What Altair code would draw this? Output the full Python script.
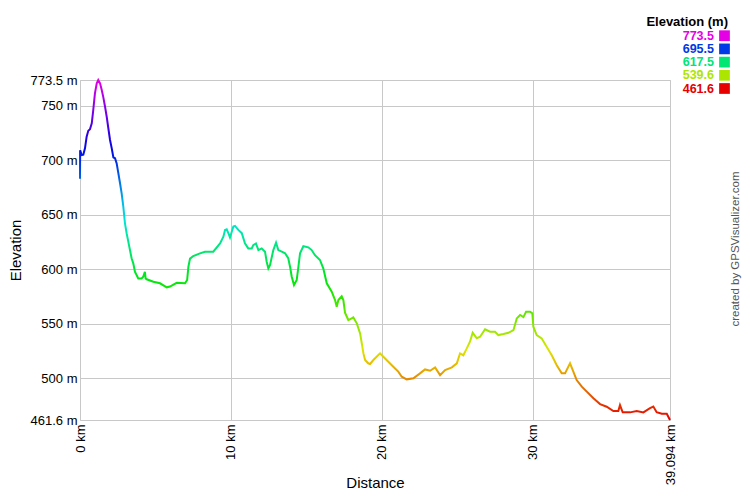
import colorsys
import altair as alt
import pandas as pd

dist_km = [0.0, 0.01, 0.11, 0.22, 0.33, 0.44, 0.55, 0.66, 0.78, 0.88, 0.99, 1.11, 1.21, 1.33, 1.44,
           1.54, 1.66, 1.77, 1.88, 1.99, 2.1, 2.21, 2.32, 2.43, 2.54, 2.65, 2.76, 2.87, 2.98, 3.09,
           3.2, 3.31, 3.42, 3.53, 3.64, 3.86, 4.08, 4.19, 4.3, 4.35, 4.42, 4.86, 5.3, 5.75, 5.96,
           6.41, 6.96, 7.1, 7.18, 7.29, 7.5, 7.95, 8.28, 8.83, 9.28, 9.5, 9.61, 9.72, 9.83, 9.94,
           10.05, 10.16, 10.27, 10.49, 10.72, 10.93, 11.15, 11.38, 11.48, 11.66, 11.82, 12.04, 12.26,
           12.37, 12.48, 12.59, 12.81, 12.99, 13.14, 13.37, 13.59, 13.8, 13.92, 14.03, 14.18, 14.36,
           14.47, 14.58, 14.8, 15.13, 15.35, 15.57, 15.9, 16.12, 16.35, 16.68, 16.9, 17.01, 17.12,
           17.34, 17.45, 17.56, 17.78, 18.0, 18.11, 18.34, 18.56, 18.67, 18.78, 18.89, 19.1, 19.22,
           19.44, 19.77, 19.88, 20.1, 20.43, 20.76, 21.09, 21.32, 21.65, 22.09, 22.53, 22.86, 23.2,
           23.53, 23.86, 24.19, 24.64, 24.97, 25.18, 25.4, 25.63, 25.84, 26.02, 26.29, 26.51, 26.84,
           27.17, 27.5, 27.72, 28.06, 28.39, 28.72, 28.94, 29.16, 29.38, 29.56, 29.82, 29.97, 30.04,
           30.26, 30.59, 30.92, 31.26, 31.59, 31.92, 32.14, 32.47, 32.65, 32.91, 33.25, 33.58, 34.02,
           34.46, 34.9, 35.34, 35.67, 35.78, 35.96, 36.45, 36.89, 37.33, 37.77, 37.99, 38.21, 38.55,
           38.88, 39.094]
elev_m = [683.0, 709.0, 704.7, 705.0, 710.8, 721.5, 727.0, 728.3, 733.8, 746.0, 761.3, 770.4, 773.5, 770.4, 764.3,
          758.0, 749.0, 739.8, 729.0, 718.5, 711.0, 702.6, 701.7, 697.0, 688.0, 679.0, 669.5, 657.3, 642.0, 632.9,
          625.2, 617.5, 610.0, 605.3, 597.6, 591.5, 591.5, 593.0, 597.6, 591.5, 590.7, 588.5, 587.0, 583.3, 584.0,
          587.5, 587.0, 590.0, 602.0, 609.6, 612.0, 614.5, 616.0, 616.0, 623.6, 629.7, 635.9, 636.5, 633.0, 629.0,
          634.0, 639.0, 639.6, 636.0, 633.0, 623.6, 619.0, 619.0, 622.0, 623.6, 617.5, 619.0, 616.0,
          606.8, 600.7, 603.7, 617.5, 624.3, 617.5, 616.0, 614.5, 610.0, 602.0, 593.0, 585.4, 590.0,
          602.0, 614.5, 621.0, 620.0, 617.5, 612.8, 608.4, 600.7, 587.0, 579.3, 571.6, 565.5, 571.6,
          575.0, 571.6, 560.0, 553.3, 554.8, 555.8, 550.3, 541.0, 532.0, 522.7, 516.6, 513.6, 513.0,
          516.6, 521.2, 522.7, 519.6, 515.0, 510.5, 506.0, 501.3, 498.9, 499.8, 504.4, 508.0, 506.8,
          509.9, 502.8, 507.4, 509.9, 513.6, 522.7, 521.0, 527.3, 533.4, 541.6, 536.5, 538.0, 544.8,
          542.6, 542.6, 539.5, 540.5, 541.6, 544.0, 554.8, 557.9, 556.0, 561.0, 561.0, 559.5, 547.2,
          539.5, 536.5, 528.8, 521.0, 511.9, 504.4, 504.4, 513.6, 507.4, 498.3, 492.2, 487.6, 481.5,
          476.2, 473.8, 469.8, 469.8, 475.3, 468.6, 468.6, 469.8, 468.6, 472.4, 473.9, 468.8, 467.3,
          467.3, 461.6]

y_ticks = [461.6, 500, 550, 600, 650, 700, 750, 773.5]
x_ticks = [0, 10, 20, 30, 39.094]
legend_labels = ["773.5", "695.5", "617.5", "539.6", "461.6"]

ELEV_MIN, ELEV_MAX = 461.6, 773.5
FONT = "Liberation Sans"
GRID = "#c8c8c8"


def hue_color(frac):
    r, g, b = colorsys.hsv_to_rgb(frac * 300 / 360, 1.0, 0.9)
    return "#%02x%02x%02x" % (round(r * 255), round(g * 255), round(b * 255))


df = pd.DataFrame({"dist": dist_km, "elev": elev_m})
one = pd.DataFrame({"k": [0]})

n_stops = 24
stops = [alt.GradientStop(color=hue_color(1 - i / n_stops), offset=i / n_stops) for i in range(n_stops + 1)]

line = alt.Chart(df).mark_line(
    strokeWidth=2,
    stroke=alt.Gradient(gradient="linear", stops=stops, x1=0, x2=0, y1=0, y2=1),
).encode(
    x=alt.X("dist:Q",
            scale=alt.Scale(domain=[0, 39.094], nice=False, zero=False),
            axis=alt.Axis(values=x_ticks, labelExpr="datum.value + ' km'", labelAngle=270,
                          labelAlign="right", labelBaseline="middle", labelPadding=4,
                          ticks=False, domain=False, grid=True, gridColor=GRID,
                          labelFont=FONT, labelFontSize=13, labelColor="#000",
                          title="Distance", titleFont=FONT, titleFontSize=15,
                          titleFontWeight="normal", titleColor="#000",
                          titleBaseline="alphabetic", titleY=67)),
    y=alt.Y("elev:Q",
            scale=alt.Scale(domain=[ELEV_MIN, ELEV_MAX], nice=False, zero=False),
            axis=alt.Axis(values=y_ticks, labelExpr="datum.value + ' m'", labelPadding=3,
                          ticks=False, domain=False, grid=True, gridColor=GRID,
                          labelFont=FONT, labelFontSize=13, labelColor="#000",
                          title="Elevation", titleFont=FONT, titleFontSize=15,
                          titleFontWeight="normal", titleColor="#000",
                          titleX=-60, titleY=170, titleAngle=270,
                          titleAlign="center", titleBaseline="alphabetic")),
)

layers = [line]

# legend title
layers.append(alt.Chart(one).mark_text(
    text="Elevation (m)", font=FONT, fontSize=13, fontWeight="bold",
    align="right", baseline="alphabetic", color="#000"
).encode(x=alt.value(648), y=alt.value(-54)))

row_y = [-44.3, -31.1, -17.9, -4.7, 8.5]
for i, lab in enumerate(legend_labels):
    frac = (float(lab) - ELEV_MIN) / (ELEV_MAX - ELEV_MIN)
    col = hue_color(frac)
    layers.append(alt.Chart(one).mark_text(
        text=lab, font=FONT, fontSize=12.5, fontWeight="bold",
        align="right", baseline="middle", color=col
    ).encode(x=alt.value(634), y=alt.value(row_y[i])))
    layers.append(alt.Chart(one).mark_square(
        size=115, color=col, opacity=1, filled=True
    ).encode(x=alt.value(644.5), y=alt.value(row_y[i])))

# credit text
layers.append(alt.Chart(one).mark_text(
    text="created by GPSVisualizer.com", font=FONT, fontSize=11.5, color="#555",
    angle=270, align="center", baseline="middle"
).encode(x=alt.value(656), y=alt.value(169)))

chart = alt.layer(*layers).properties(
    width=590, height=340,
    autosize=alt.AutoSizeParams(type="none"),
    padding={"left": 72, "top": 72, "right": 72, "bottom": 72},
    background="white",
).configure_view(stroke=GRID)

chart.save("out.html", embed_options={"renderer": "svg", "actions": False})
